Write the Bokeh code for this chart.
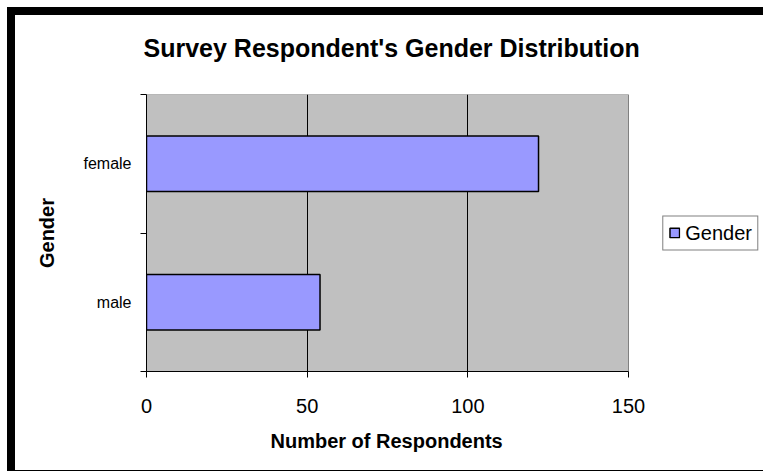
from bokeh.plotting import figure
from bokeh.models import (Legend, LegendItem, FixedTicker, Range1d,
                          ColumnDataSource, Title)
from bokeh.embed import file_html
from bokeh.resources import INLINE

# ---- data ----
categories = ["male", "female"]
counts = [54, 122]
x_ticks = [0, 50, 100, 150]
series_name = "Gender"
title_text = "Survey Respondent's Gender Distribution"
x_label = "Number of Respondents"
y_label = "Gender"

FONT = "Liberation Sans"

# ---- layout (pixels) ----
W, H = 756, 464
LEFT, RIGHT, TOP, BOTTOM = 131, 8, 79, 108
AXIS_W = 482                     # width of the grey plot area
FRAME_W = W - LEFT - RIGHT       # frame also holds the legend on the right

y_pos = [i + 0.5 for i in range(len(categories))]
boundaries = list(range(len(categories) + 1))
source = ColumnDataSource(dict(y=y_pos, count=counts, cat=categories))

x_end = x_ticks[-1] * FRAME_W / AXIS_W

p = figure(width=W, height=H, output_backend="svg", toolbar_location=None,
           x_range=Range1d(x_ticks[0], x_end),
           y_range=Range1d(0, len(categories)),
           min_border_left=LEFT, min_border_right=RIGHT,
           min_border_top=TOP, min_border_bottom=BOTTOM)
p.styles = {"border-left": "8px solid black",
            "border-top": "8px solid black",
            "border-bottom": "1px solid black",
            "margin-left": "7px",
            "margin-top": "7px"}

p.background_fill_color = "white"
p.border_fill_color = "white"
p.outline_line_color = None

# grey plot area
p.quad(left=[x_ticks[0]], right=[x_ticks[-1]], bottom=[0],
       top=[len(categories)], fill_color="#C0C0C0", line_color="#808080",
       line_width=1, level="image")

r = p.hbar(y="y", right="count", left=0, height=0.4, source=source,
           fill_color="#9999FF", line_color="black", line_width=1.5)

# grid
p.ygrid.grid_line_color = None
p.xgrid.ticker = FixedTicker(ticks=x_ticks[1:-1])
p.xgrid.grid_line_color = "black"
p.xgrid.grid_line_width = 1

# x axis
xa = p.xaxis[0]
xa.ticker = FixedTicker(ticks=x_ticks)
xa.bounds = (x_ticks[0], x_ticks[-1])
xa.axis_line_color = "black"
xa.major_tick_line_color = "black"
xa.major_tick_out = 6
xa.major_tick_in = 0
xa.minor_tick_line_color = None
xa.major_label_text_font = FONT
xa.major_label_text_font_size = "20px"
xa.major_label_text_color = "black"
xa.major_label_standoff = 21

p.add_layout(Title(text=x_label, align="left", offset=124, standoff=24,
                   text_font=FONT, text_font_size="20px",
                   text_font_style="bold", text_color="black"), "below")

# y axis
ya = p.yaxis[0]
ya.ticker = FixedTicker(ticks=y_pos, minor_ticks=boundaries)
ya.major_label_overrides = {y: c for y, c in zip(y_pos, categories)}
ya.axis_line_color = "black"
ya.major_tick_out = 0
ya.major_tick_in = 0
ya.major_tick_line_color = None
ya.minor_tick_line_color = "black"
ya.minor_tick_out = 6
ya.minor_tick_in = 0
ya.major_label_text_font = FONT
ya.major_label_text_font_size = "16px"
ya.major_label_text_color = "black"
ya.major_label_standoff = 9
ya.axis_label = y_label
ya.axis_label_text_font = FONT
ya.axis_label_text_font_size = "20px"
ya.axis_label_text_font_style = "bold"
ya.axis_label_text_color = "black"
ya.axis_label_standoff = 22

# title (outermost) plus a blank spacer between it and the plot area
p.title.text = title_text
p.title.align = "left"
p.title.offset = -3
p.title.text_font = FONT
p.title.text_font_size = "25px"
p.title.text_font_style = "bold"
p.title.text_color = "black"
p.title.standoff = 0
p.add_layout(Title(text=" ", text_font_size="1px", standoff=30), "above")

# legend
legend = Legend(items=[LegendItem(label=series_name, renderers=[r])],
                location="right", margin=5, padding=5,
                glyph_width=12, glyph_height=12, label_standoff=5,
                label_text_font=FONT, label_text_font_size="20px",
                label_text_color="black",
                border_line_color="black", border_line_width=1,
                background_fill_color="white", background_fill_alpha=1)
p.add_layout(legend)

open("out.html", "w").write(file_html(p, INLINE))
